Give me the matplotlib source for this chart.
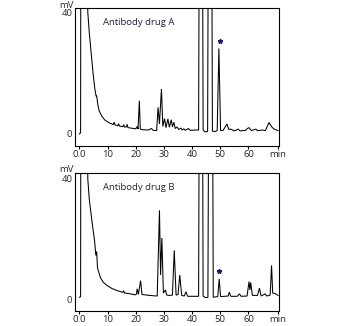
import matplotlib
matplotlib.use("Agg")
import matplotlib.pyplot as plt

plt.rcParams['font.family'] = ['Open Sans', 'DejaVu Sans']

# ---- Data (time in min, signal in mV) ----
time_a = [0.0, 0.3, 0.4, 0.5, 2.7, 2.95, 3.5, 4.1, 4.8, 5.4, 5.9, 6.1, 6.5, 7.0, 8.0, 9.0,
          10.5, 12.0, 12.3, 12.6, 13.6, 13.9, 14.2, 15.4, 15.7, 16.0, 16.6, 16.9, 17.2, 18.5,
          20.0, 20.5, 20.8, 21.25, 21.6, 22.5, 24.5, 25.5, 26.2, 27.4, 27.9, 28.4, 29.1, 29.6,
          30.2, 30.7, 31.4, 31.9, 32.6, 33.0, 33.5, 34.0, 34.6, 35.2, 36.0, 36.5, 37.0, 37.6,
          38.7, 39.3, 41.0, 42.3, 43.1, 43.9, 44.6, 45.5, 46.35, 47.2, 48.1, 48.9, 49.5, 50.1,
          51.0, 52.4, 53.0, 53.7, 55.0, 56.4, 57.0, 59.0, 59.6, 60.2, 61.0, 62.6, 63.2, 65.0,
          66.0, 67.3, 67.9, 68.3, 69.1, 70.5]
mv_a = [-0.3, 0.0, 0.5, 80, 80, 40, 33, 27, 20, 15, 12.2, 12.3, 9.5, 7.3, 5.5, 4.3,
        3.4, 2.8, 3.6, 2.7, 2.4, 3.1, 2.3, 2.1, 2.8, 2.0, 2.0, 2.9, 1.8, 1.6,
        1.4, 2.2, 1.3, 10.7, 1.3, 1.1, 1.0, 1.5, 0.9, 0.8, 8.5, 3.0, 14.6, 2.2,
        4.8, 1.8, 4.7, 1.9, 4.4, 2.0, 3.6, 1.5, 2.0, 1.2, 1.6, 1.0, 1.4, 0.9,
        1.5, 0.9, 1.0, 1.0, 250, 1.0, 0.4, 0.5, 250, 0.6, 0.5, 0.8, 28.0, 0.8,
        0.9, 3.0, 1.2, 1.3, 0.7, 1.3, 0.7, 0.9, 1.5, 1.8, 0.8, 1.3, 0.8, 1.0,
        0.8, 3.5, 2.5, 2.0, 1.3, 0.8]

time_b = [0.0, 0.3, 0.4, 0.5, 2.7, 2.95, 3.5, 4.6, 5.4, 5.8, 6.1, 6.4, 7.5, 8.5, 9.8,
          11.5, 13.4, 15.4, 15.7, 16.0, 17.5, 19.8, 20.2, 20.5, 20.9, 21.7, 22.2, 24.0,
          26.0, 27.6, 28.4, 28.8, 29.25, 29.8, 30.5, 31.0, 32.0, 33.0, 33.65, 34.3, 35.0,
          35.6, 36.3, 37.2, 37.8, 38.4, 40.0, 42.3, 43.1, 43.9, 44.7, 45.6, 46.6, 47.5,
          48.5, 49.1, 49.6, 50.1, 51.5, 52.8, 53.2, 53.7, 56.0, 56.8, 57.4, 59.5, 60.2,
          60.5, 60.8, 61.4, 63.2, 63.9, 64.5, 65.9, 66.5, 67.7, 68.2, 68.6, 69.5, 70.5]
mv_b = [0.6, 0.7, 0.9, 80, 80, 40, 33, 24.6, 19.1, 14.5, 15.8, 10.3, 7.0, 5.5, 4.5,
        3.5, 2.8, 2.2, 2.8, 2.0, 1.8, 1.4, 1.6, 3.4, 1.5, 6.1, 1.5, 1.3,
        1.1, 1.0, 29.5, 8.0, 20.3, 2.0, 3.0, 1.3, 1.2, 1.3, 16.2, 1.3, 1.5,
        8.0, 1.2, 1.0, 2.4, 0.9, 0.9, 0.9, 250, 1.0, 0.5, 0.5, 250, 0.6,
        0.7, 0.8, 6.7, 0.8, 0.9, 1.0, 2.3, 0.9, 0.9, 1.7, 0.9, 1.0, 5.8,
        3.0, 5.5, 1.2, 1.2, 3.6, 1.0, 1.7, 1.0, 1.3, 11.2, 2.0, 1.8, 1.2]

star_a = (50.0, 30.6)
star_b = (49.6, 9.4)

x_ticks = [0, 10, 20, 30, 40, 50, 60, 70.5]
x_ticklabels = ['0.0', '10', '20', '30', '40', '50', '60', 'min']
y_ticks = [0, 40]
y_ticklabels = ['0', '40']

panels = [
    dict(t=time_a, v=mv_a, star=star_a, label='Antibody drug A',
         rect=[0.215, 0.552, 0.581, 0.422], ylim=(-4.3, 41.2), mv_y=1 - 5 / 326),
    dict(t=time_b, v=mv_b, star=star_b, label='Antibody drug B',
         rect=[0.215, 0.045, 0.581, 0.424], ylim=(-4.1, 41.9), mv_y=1 - 170 / 326),
]

text_col = '#1e1e40'
tick_col = '#26262e'

fig = plt.figure(figsize=(3.5, 3.26), dpi=100)
for p in panels:
    ax = fig.add_axes(p['rect'])
    ax.plot(p['t'], p['v'], color='black', lw=0.75, solid_joinstyle='miter')
    ax.plot([p['star'][0]], [p['star'][1]], marker='*', ms=3.5, color='#1a1a6e', ls='none')
    ax.set_xlim(-1.5, 70.7)
    ax.set_ylim(*p['ylim'])
    ax.set_xticks(x_ticks)
    ax.set_xticklabels(x_ticklabels)
    ax.set_yticks(y_ticks)
    ax.set_yticklabels(y_ticklabels)
    ax.tick_params(axis='x', direction='out', length=2.5, width=0.8, pad=0.5,
                   labelsize=6.8, labelcolor=tick_col, color='black')
    ax.tick_params(axis='y', length=0, pad=2, labelsize=6.8, labelcolor=tick_col)
    for s in ax.spines.values():
        s.set_linewidth(0.8)
        s.set_color('black')
    ax.text(0.138, 0.895, p['label'], transform=ax.transAxes, fontsize=6.8,
            color=text_col, ha='left', va='center')
    fig.text(66 / 350, p['mv_y'], 'mV', ha='center', va='center', fontsize=6.8,
             color=tick_col)

fig.savefig('out.png', dpi=100)
